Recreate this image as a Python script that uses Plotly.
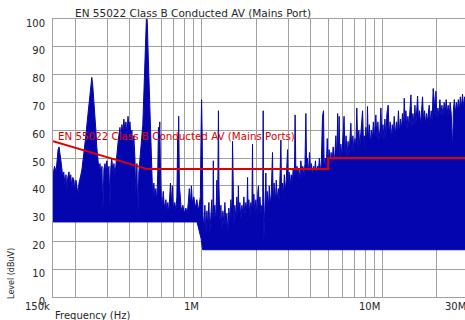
import math
import plotly.graph_objects as go

# ---------------- data (frequency in MHz, level in dBuV) ----------------
band1_freq_mhz = [0.150, 0.153, 0.156, 0.158, 0.160, 0.162, 0.164, 0.166, 0.168, 0.170, 0.172, 0.175, 0.177, 0.179,
                  0.181, 0.184, 0.186, 0.188, 0.191, 0.193, 0.196, 0.198, 0.201, 0.203, 0.206, 0.209, 0.211, 0.214,
                  0.217, 0.219, 0.222, 0.225, 0.228, 0.231, 0.234, 0.237, 0.240, 0.243, 0.246, 0.249, 0.252, 0.256,
                  0.259, 0.262, 0.266, 0.269, 0.273, 0.276, 0.280, 0.283, 0.287, 0.291, 0.294, 0.298, 0.302, 0.306,
                  0.310, 0.313, 0.317, 0.322, 0.326, 0.330, 0.334, 0.338, 0.343, 0.347, 0.352, 0.356, 0.361, 0.365,
                  0.370, 0.375, 0.380, 0.385, 0.390, 0.395, 0.400, 0.405, 0.410, 0.415, 0.420, 0.426, 0.431, 0.437,
                  0.442, 0.448, 0.454, 0.459, 0.465, 0.471, 0.478, 0.484, 0.490, 0.493, 0.496, 0.500, 0.503, 0.509,
                  0.516, 0.522, 0.529, 0.535, 0.542, 0.549, 0.556, 0.563, 0.570, 0.575, 0.580, 0.585, 0.590, 0.596,
                  0.604, 0.611, 0.620, 0.632, 0.640, 0.648, 0.656, 0.665, 0.670, 0.677, 0.686, 0.695, 0.708, 0.718,
                  0.727, 0.735, 0.740, 0.744, 0.751, 0.760, 0.769, 0.785, 0.800, 0.815, 0.830, 0.841, 0.852, 0.863,
                  0.875, 0.886, 0.903, 0.920, 0.938, 0.956, 0.969, 0.981, 0.990, 0.996, 1.004, 1.013]
band1_level = [44, 47, 45, 50, 53, 54, 52, 49, 46, 43, 45, 40, 44, 38,
               43, 45, 41, 44, 39, 43, 42, 38, 42, 40, 37, 41, 43, 44,
               46, 48, 52, 55, 58, 62, 66, 70, 74, 78, 79, 76, 72, 67,
               60, 54, 50, 46, 48, 44, 47, 30, 46, 48, 45, 49, 44, 47,
               32, 46, 50, 45, 48, 44, 47, 52, 55, 58, 61, 57, 62, 59,
               64, 60, 63, 58, 65, 61, 63, 57, 60, 52, 58, 50, 37, 48,
               28, 45, 50, 53, 56, 62, 74, 86, 96, 100, 100, 97, 90, 78,
               64, 52, 40, 35, 41, 36, 39, 34, 45, 61, 57, 63, 45, 36,
               33, 38, 32, 35, 31, 34, 30, 36, 41, 33, 40, 32, 34, 31,
               36, 58, 42, 65, 40, 36, 31, 33, 30, 32, 30, 34, 39, 33,
               40, 34, 36, 32, 35, 31, 34, 36, 60, 71, 58, 30]

band2_freq_mhz = [1.026, 1.039, 1.052, 1.066, 1.079, 1.093, 1.107, 1.121, 1.135, 1.150, 1.157, 1.165, 1.180, 1.195,
                  1.210, 1.220, 1.229, 1.235, 1.243, 1.258, 1.274, 1.290, 1.307, 1.324, 1.341, 1.358, 1.375, 1.393,
                  1.410, 1.429, 1.447, 1.466, 1.478, 1.488, 1.503, 1.522, 1.542, 1.562, 1.582, 1.592, 1.602, 1.623,
                  1.644, 1.665, 1.686, 1.708, 1.730, 1.752, 1.775, 1.790, 1.802, 1.820, 1.843, 1.867, 1.891, 1.906,
                  1.919, 1.939, 1.964, 1.990, 2.015, 2.041, 2.057, 2.074, 2.095, 2.120, 2.148, 2.170, 2.184, 2.198,
                  2.218, 2.240, 2.260, 2.277, 2.30, 2.33, 2.36, 2.39, 2.42, 2.46, 2.48, 2.51, 2.55, 2.58,
                  2.61, 2.65, 2.68, 2.71, 2.737, 2.76, 2.79, 2.82, 2.86, 2.90, 2.93, 2.98, 3.01, 3.04,
                  3.08, 3.12, 3.16, 3.20, 3.25, 3.28, 3.313, 3.36, 3.40, 3.44, 3.49, 3.53, 3.58, 3.62,
                  3.67, 3.72, 3.763, 3.80, 3.84, 3.89, 3.94, 3.99, 4.04, 4.09, 4.15, 4.20, 4.25, 4.30,
                  4.36, 4.41, 4.47, 4.53, 4.58, 4.65, 4.71, 4.75, 4.82, 4.88, 4.94, 4.99, 5.06, 5.12]
band2_level = [24, 33, 22, 31, 25, 34, 23, 29, 35, 24, 49, 28, 33, 26,
               42, 25, 50, 67, 40, 27, 33, 24, 31, 26, 34, 25, 30, 23,
               32, 27, 35, 29, 56, 30, 26, 33, 28, 36, 29, 40, 30, 34,
               28, 33, 30, 36, 29, 34, 30, 43, 31, 35, 29, 34, 31, 55,
               31, 37, 30, 35, 29, 38, 40, 31, 36, 30, 33, 30, 67, 18,
               31, 36, 44.6, 32, 38, 31, 40, 33, 37, 52, 33, 41, 34, 42,
               35, 39, 34, 45, 56.5, 37, 41, 36, 44, 38, 42, 53, 39, 45,
               40, 44, 41, 46, 42, 65.5, 44, 47, 43, 46, 42, 49, 44, 47,
               43, 48, 66, 45, 50, 44, 52, 45, 48, 44, 47, 45, 49, 44,
               47, 45, 50, 45, 48, 65, 67, 46, 50, 46, 57, 47, 53, 47]

band3_freq_mhz = [5.19, 5.25, 5.33, 5.40, 5.515, 5.59, 5.64, 5.69, 5.75, 5.81, 5.876, 5.95, 6.03, 6.12,
                  6.20, 6.28, 6.36, 6.44, 6.52, 6.60, 6.676, 6.76, 6.85, 6.94, 7.03, 7.11, 7.20, 7.30,
                  7.39, 7.48, 7.58, 7.75, 7.85, 7.93, 8.01, 8.08, 8.18, 8.25, 8.33, 8.44, 8.55, 8.66,
                  8.77, 8.89, 9.00, 9.18, 9.30, 9.42, 9.54, 9.67, 9.79, 9.92, 10.05, 10.18, 10.30, 10.43,
                  10.57, 10.74, 10.88, 11.02, 11.16, 11.31, 11.45, 11.60, 11.75, 11.93, 12.08, 12.24, 12.40, 12.55,
                  12.71, 12.88, 13.04, 13.18, 13.33, 13.46, 13.63, 13.81, 13.98, 14.16, 14.35, 14.53, 14.72, 14.91,
                  15.10, 15.29, 15.62, 15.82, 16.02, 16.23, 16.44, 16.64, 16.86, 17.08, 17.30, 17.52, 17.74, 18.11,
                  18.34, 18.58, 18.81, 19.05, 19.30, 19.55, 19.73, 19.98, 20.24, 20.50, 20.76, 21.03, 21.30, 21.57,
                  21.93, 22.21, 22.49, 22.78, 23.07, 23.37, 23.66, 23.97, 24.43, 24.64, 24.95, 25.27, 25.60, 25.92,
                  26.25, 26.59, 26.93, 27.27, 27.70, 28.05, 28.41, 28.78, 29.27, 30.0]
band3_level = [52, 48, 54, 47, 58, 49, 66, 50, 65, 49, 55, 50, 57, 65,
               51, 58, 50, 56, 51, 59, 62.5, 52, 58, 52, 57, 53, 68, 53,
               60, 54, 58, 67, 54, 58, 53, 61, 55, 68.5, 56, 62, 55, 60,
               56, 63, 57, 65.5, 57, 63, 56, 60, 68, 57, 62, 56, 64, 57,
               66, 69, 58, 63, 57, 62, 58, 65, 58, 63, 59, 67, 59, 64,
               60, 66, 60, 71.5, 61, 67, 60, 65, 61, 68, 72.7, 61, 66, 62,
               69, 62, 72.3, 63, 67, 62, 68, 72, 63, 67, 62, 66, 63, 69,
               62, 67, 63, 75, 71, 64, 74, 64, 68, 65, 71, 65, 69, 65,
               70, 66, 71, 66, 69, 65, 70, 66, 53, 67, 71, 66, 70, 67,
               71, 67, 72, 68, 73, 68, 72, 69, 73, 72]

floor_freq_mhz = [0.15, 0.94, 0.99, 1.01, 30.0]
floor_level = [27, 27, 21, 17, 17]

limit_freq_mhz = [0.15, 0.5, 5.0, 5.0, 30.0]
limit_level = [56, 46, 46, 50, 50]

y_tick_values = [0, 10, 20, 30, 40, 50, 60, 70, 80, 90, 100]
x_grid_mhz = [0.2, 0.3, 0.4, 0.5, 0.6, 0.7, 0.8, 0.9, 1, 2, 3, 4, 5, 6, 7, 8, 9, 10, 20]
x_label_mhz = [0.15, 1, 10, 30]
x_label_text = ["150k", "1M", "10M", "30M"]

title_text = "EN 55022 Class B Conducted AV (Mains Port)"
limit_text = "EN 55022 Class B Conducted AV (Mains Ports)"

# ---------------- figure ----------------
BLUE = "#0505b0"
RED = "#e00000"
GRID = "#a0a0a0"
FONT = "DejaVu Sans"
TXT = "#262626"

spec_f = band1_freq_mhz + band2_freq_mhz + band3_freq_mhz
spec_l = band1_level + band2_level + band3_level
poly_x = [f * 1e6 for f in spec_f] + [f * 1e6 for f in reversed(floor_freq_mhz)]
poly_y = spec_l + list(reversed(floor_level))

fig = go.Figure()
fig.add_trace(go.Scatter(x=poly_x, y=poly_y, mode="lines", fill="toself", fillcolor=BLUE,
                         line=dict(color=BLUE, width=1), hoverinfo="skip", showlegend=False))
fig.add_trace(go.Scatter(x=[f * 1e6 for f in limit_freq_mhz], y=limit_level, mode="lines",
                         line=dict(color=RED, width=2), hoverinfo="skip", showlegend=False))

x0 = math.log10(0.15e6)
x1 = x0 + 412 / 180.7

fig.update_layout(
    width=465, height=320,
    margin=dict(l=53, r=0, t=19, b=23, pad=0, autoexpand=False),
    paper_bgcolor="white", plot_bgcolor="white",
    hovermode=False,
    xaxis=dict(type="log", range=[x0, x1], tickmode="array", automargin=False,
               tickvals=[v * 1e6 for v in x_grid_mhz], ticktext=[""] * len(x_grid_mhz),
               showgrid=True, gridcolor=GRID, gridwidth=1, zeroline=False,
               showline=True, linecolor=GRID, linewidth=1, mirror=True, ticks=""),
    yaxis=dict(range=[0, 100], tickmode="array", tickvals=y_tick_values, automargin=False,
               ticktext=[str(v) for v in y_tick_values],
               showgrid=True, gridcolor=GRID, gridwidth=1, zeroline=False,
               showline=True, linecolor=GRID, linewidth=1, mirror=False, ticks="",
               ticklabelshift=4, ticklabelstandoff=5,
               tickfont=dict(family=FONT, size=10, color=TXT)),
    showlegend=False,
)

annotations = []
for v, t in zip(x_label_mhz, x_label_text):
    xp = (math.log10(v * 1e6) - x0) / (x1 - x0)
    annotations.append(dict(x=xp, xref="paper", y=-0.034, yref="paper", text=t,
                            showarrow=False, xanchor="right", yanchor="middle", xshift=-1,
                            font=dict(family=FONT, size=10, color=TXT)))
annotations.append(dict(x=0.0485, xref="paper", y=1.0216, yref="paper", text=title_text,
                        showarrow=False, xanchor="left", yanchor="middle",
                        font=dict(family=FONT, size=10.5, color=TXT)))
annotations.append(dict(x=0.007, xref="paper", y=0.579, yref="paper", text=limit_text,
                        showarrow=False, xanchor="left", yanchor="middle",
                        font=dict(family=FONT, size=10.3, color=RED)))
annotations.append(dict(x=0.0, xref="paper", y=-0.066, yref="paper", text="Frequency (Hz)",
                        showarrow=False, xanchor="left", yanchor="middle",
                        font=dict(family=FONT, size=10, color=TXT)))
annotations.append(dict(x=-0.0995, xref="paper", y=0.083, yref="paper", text="Level (dBuV)",
                        showarrow=False, xanchor="center", yanchor="middle", textangle=-90,
                        font=dict(family=FONT, size=8, color=TXT)))
fig.update_layout(annotations=annotations)

# remove the default 8px page margin so the 465x320 figure fills the window exactly
fig.write_html("out.html",
               config={"displayModeBar": False, "staticPlot": True},
               post_script="document.body.style.margin='0';document.body.style.overflow='hidden';")
